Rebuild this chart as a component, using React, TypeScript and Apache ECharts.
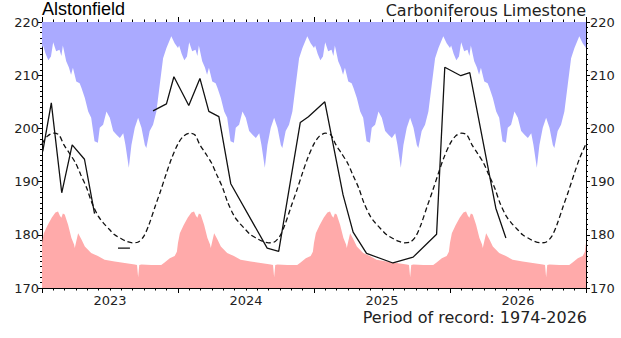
import { useEffect, useRef } from 'react';
import * as echarts from 'echarts';

// Calendar years shown on the x axis
const YEARS = [2023, 2024, 2025, 2026];

// Historical maximum level by day of year (mAOD)
const MAX_DOY = [0, 3, 10, 17, 24, 30, 38, 47, 52, 56, 65, 72, 78, 83, 92, 101, 106, 115, 124, 132, 141, 150, 155, 164, 173, 182, 191, 200, 209, 218, 224, 233, 240, 249, 258, 267, 276, 280, 289, 298, 307, 316, 325, 334, 347, 356, 365];
const MAX_VAL = [215.1, 215.6, 214.0, 212.8, 213.5, 216.2, 214.5, 214.8, 213.6, 215.6, 212.6, 211.5, 210.1, 211.4, 208.8, 208.5, 207.6, 205.7, 203.2, 202.0, 197.6, 197.3, 200.1, 200.7, 203.2, 202.0, 199.5, 198.8, 198.2, 199.1, 196.9, 192.6, 196.9, 200.1, 202.0, 200.1, 196.9, 196.3, 199.5, 200.7, 203.2, 208.2, 213.2, 215.1, 217.3, 216.0, 215.1];

// Historical minimum level by day of year (mAOD)
const MIN_DOY = [0, 5, 15, 26, 36, 43, 48, 52, 56, 61, 70, 79, 86, 88, 92, 97, 106, 115, 132, 150, 168, 195, 222, 249, 255, 258, 261, 267, 293, 320, 329, 343, 356, 362, 365];
const MIN_VAL = [178.5, 180.3, 181.8, 183.2, 184.2, 184.4, 183.6, 183.2, 184.0, 183.8, 181.9, 179.4, 178.2, 177.5, 178.8, 180.3, 179.1, 177.8, 176.6, 176.0, 175.3, 175.0, 174.7, 174.4, 174.3, 172.0, 174.3, 174.4, 174.3, 174.3, 174.8, 175.6, 176.0, 176.8, 178.5];

// Long-term mean level by day of year (mAOD)
const MEAN_DOY = [0, 14, 31, 45, 59, 73, 90, 104, 120, 134, 151, 165, 181, 195, 212, 226, 243, 257, 273, 287, 304, 318, 334, 348, 365];
const MEAN_VAL = [197.1, 198.5, 199.1, 198.8, 196.9, 195.4, 193.5, 191.3, 188.8, 186.0, 183.5, 182.2, 181.0, 180.0, 179.3, 178.8, 178.5, 178.6, 179.7, 181.9, 185.4, 188.2, 191.6, 194.4, 197.1];

// Observed readings (null = gap in record)
const LEVEL_DATES: (string | null)[] = [
  '2023-01-03', '2023-01-26', '2023-02-23', '2023-03-23', '2023-04-25', '2023-05-22', null,
  '2023-07-24', '2023-08-25', null,
  '2023-10-26', '2023-12-01', '2023-12-21', '2024-01-30', '2024-02-29', '2024-03-24', '2024-04-20',
  '2024-05-22', '2024-08-28', '2024-09-28', '2024-11-25', '2024-12-17', '2025-01-30', '2025-03-20',
  '2025-04-16', '2025-05-22', '2025-08-01', '2025-09-24', '2025-11-26', '2025-12-18', '2026-01-30',
  '2026-02-23', '2026-05-04', '2026-05-31',
];
const LEVEL_VALUES: (number | null)[] = [
  195.7, 204.8, 187.9, 196.9, 194.2, 184.0, null,
  177.5, 177.5, null,
  203.3, 204.6, 209.7, 204.3, 209.4, 203.2, 202.2,
  189.6, 177.5, 176.9, 201.1, 202.2, 205.0, 187.5,
  180.5, 176.5, 174.7, 175.8, 180.1, 211.5, 209.9,
  210.5, 185.0, 179.4,
];

const Y_MIN = 170;
const Y_MAX = 220;

function toFrac(s: string): number {
  const [y, m, d] = s.split('-').map(Number);
  const start = Date.UTC(y, 0, 1);
  const end = Date.UTC(y + 1, 0, 1);
  return y + (Date.UTC(y, m - 1, d) - start) / (end - start);
}

function yearly(doys: number[], vals: number[]): [number, number][] {
  const out: [number, number][] = [];
  YEARS.forEach((yr, yi) => {
    doys.forEach((d, i) => {
      if (d === 365 && yi !== YEARS.length - 1) return;
      out.push([yr + d / 365, vals[i]]);
    });
  });
  return out;
}

function levelData(): any[] {
  const out: any[] = [];
  for (let i = 0; i < LEVEL_VALUES.length; i++) {
    const d = LEVEL_DATES[i];
    const v = LEVEL_VALUES[i];
    if (d === null || v === null) {
      const prev = out[out.length - 1][0];
      out.push([prev + 0.01, '-']);
    } else {
      out.push([toFrac(d), v]);
    }
  }
  return out;
}

export default function App() {
  const ref = useRef<HTMLDivElement>(null);
  useEffect(() => {
    if (!ref.current) return;
    const chart = echarts.init(ref.current, undefined, { renderer: 'svg' });
    const font = "'DejaVu Sans', sans-serif";
    const tickLine = { color: '#000', width: 1 };
    const yAxisBase = {
      type: 'value' as const,
      min: Y_MIN,
      max: Y_MAX,
      interval: 10,
      axisLine: { show: true, lineStyle: { color: '#000', width: 1 } },
      axisTick: { show: true, inside: false, length: 4, lineStyle: tickLine },
      minorTick: { show: true, splitNumber: 10, length: 2, lineStyle: tickLine },
      splitLine: { show: false },
      axisLabel: { fontSize: 13, fontFamily: font, color: '#222' },
    };
    const xTickAxis = {
      type: 'value' as const,
      min: 2023,
      max: 2027,
      interval: 1,
      axisLine: { show: true, lineStyle: { color: '#000', width: 1 } },
      axisTick: { show: true, inside: false, length: 5, lineStyle: tickLine },
      minorTick: { show: true, splitNumber: 12, length: 2.5, lineStyle: tickLine },
      splitLine: { show: false },
      axisLabel: { show: false },
    };
    chart.setOption({
      animation: false,
      grid: { left: 42, right: 35, top: 22, bottom: 50 },
      xAxis: [
        {
          type: 'value',
          position: 'bottom',
          min: 2023,
          max: 2027,
          interval: 0.5,
          axisLine: { show: true, lineStyle: { color: '#000', width: 1 } },
          axisTick: { show: false },
          splitLine: { show: false },
          axisLabel: {
            fontSize: 13,
            fontFamily: font,
            color: '#222',
            margin: 6,
            formatter: (v: number) => (Math.abs((v % 1) - 0.5) < 1e-6 ? String(Math.floor(v)) : ''),
          },
        },
        { ...xTickAxis, position: 'bottom' },
        { ...xTickAxis, position: 'top' },
      ],
      yAxis: [
        { ...yAxisBase, position: 'left', axisLabel: { ...yAxisBase.axisLabel, margin: 3 } },
        { ...yAxisBase, position: 'right', axisLabel: { ...yAxisBase.axisLabel, margin: 4 } },
      ],
      series: [
        {
          type: 'line',
          data: yearly(MAX_DOY, MAX_VAL),
          showSymbol: false,
          lineStyle: { width: 0 },
          areaStyle: { color: '#aaaaff', opacity: 1, origin: 'end' },
          z: 1,
        },
        {
          type: 'line',
          data: yearly(MIN_DOY, MIN_VAL),
          showSymbol: false,
          lineStyle: { width: 0 },
          areaStyle: { color: '#ffaaaa', opacity: 1, origin: 'start' },
          z: 1,
        },
        {
          type: 'line',
          data: yearly(MEAN_DOY, MEAN_VAL),
          showSymbol: false,
          smooth: 0.3,
          lineStyle: { color: '#111', width: 1.3, type: [5, 3] },
          z: 3,
        },
        {
          type: 'line',
          data: levelData(),
          showSymbol: false,
          connectNulls: false,
          lineStyle: { color: '#111', width: 1.3 },
          z: 4,
        },
      ],
      graphic: [
        {
          type: 'text',
          x: 42,
          y: 8.8,
          style: {
            text: 'Alstonfield',
            font: "18px 'Liberation Sans', Arial, sans-serif",
            fill: '#000',
            align: 'left',
            verticalAlign: 'middle',
          },
        },
        {
          type: 'text',
          x: 586,
          y: 10.5,
          style: {
            text: 'Carboniferous Limestone',
            font: "16px 'DejaVu Sans', sans-serif",
            fill: '#222',
            align: 'right',
            verticalAlign: 'middle',
          },
        },
        {
          type: 'text',
          x: 587,
          y: 317.8,
          style: {
            text: 'Period of record: 1974-2026',
            font: "16px 'DejaVu Sans', sans-serif",
            fill: '#222',
            align: 'right',
            verticalAlign: 'middle',
          },
        },
      ],
    });
    return () => chart.dispose();
  }, []);
  return (
    <div
      ref={ref}
      style={{ position: 'absolute', left: 0, top: 0, width: 621, height: 338, background: '#fff' }}
    />
  );
}
